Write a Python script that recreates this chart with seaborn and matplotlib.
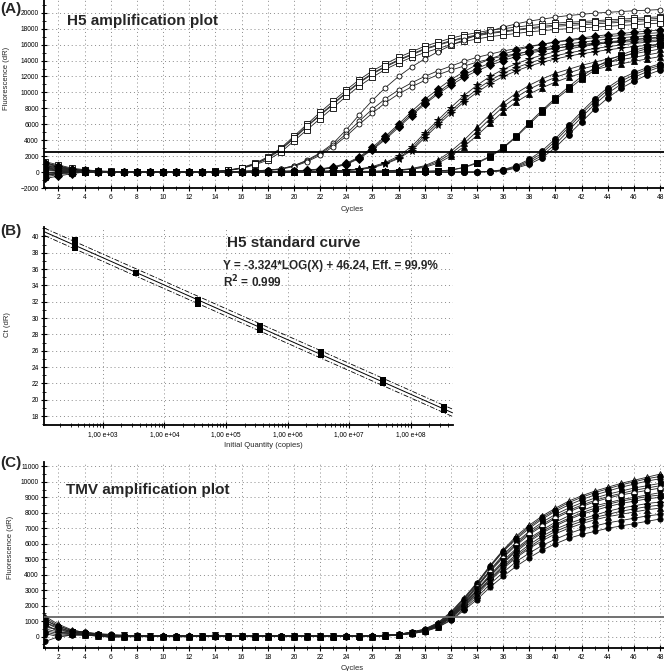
import matplotlib
matplotlib.use("Agg")
import matplotlib.pyplot as plt
import matplotlib.ticker as mticker
import numpy as np
import pandas as pd
import seaborn as sns

# ---------------- data ----------------
cycles = list(range(1, 49))

# (A) H5 amplification curves, fluorescence (dR) per cycle 1..48
h5_sq1 = [1300, 900, 500, 300, 150, 100, 50, 0, 0, 0, 0, 0, 50, 100, 250, 550, 1100, 1900, 3000, 4500, 6000, 7500, 8900, 10300, 11600, 12700, 13600, 14400, 15100, 15800, 16300, 16800, 17200, 17500, 17800, 18000, 18200, 18400, 18550, 18700, 18800, 18900, 19000, 19100, 19200, 19300, 19400, 19500]
h5_sq2 = [900, 600, 300, 200, 100, 50, 0, 0, -50, 0, 0, 0, 0, 100, 200, 500, 1000, 1700, 2800, 4200, 5700, 7100, 8500, 9900, 11200, 12300, 13200, 14000, 14700, 15400, 15900, 16400, 16800, 17100, 17400, 17600, 17800, 18000, 18150, 18300, 18400, 18500, 18600, 18700, 18800, 18900, 19000, 19100]
h5_sq3 = [-600, -300, -100, 0, 50, 50, 0, 0, 0, 0, 0, 0, 50, 50, 200, 450, 900, 1500, 2500, 3900, 5300, 6700, 8100, 9500, 10800, 11900, 12900, 13700, 14400, 15000, 15500, 16000, 16400, 16700, 17000, 17200, 17400, 17600, 17750, 17900, 18000, 18100, 18200, 18300, 18400, 18500, 18600, 18700]
h5_sq4 = [500, 200, 100, 100, 0, 0, 0, -50, 0, 0, 0, 0, 0, 100, 250, 500, 1000, 1800, 2900, 4300, 5800, 7200, 8600, 10000, 11300, 12400, 13300, 14100, 14800, 15500, 16000, 16500, 16900, 17200, 17500, 17700, 17900, 18100, 18300, 18450, 18600, 18700, 18800, 18900, 19000, 19100, 19200, 19300]

h5_op1 = [800, 500, 300, 200, 100, 50, 0, 0, 0, 0, 0, 0, 0, 0, 50, 100, 150, 250, 400, 800, 1500, 2400, 3600, 5300, 7200, 9000, 10600, 12000, 13200, 14200, 15100, 15900, 16600, 17200, 17700, 18200, 18600, 18950, 19200, 19450, 19650, 19800, 19950, 20050, 20150, 20250, 20320, 20400]
h5_op2 = [1000, 700, 400, 200, 100, 0, 0, 0, 0, 0, 0, 0, 0, 0, 50, 100, 150, 250, 400, 800, 1400, 2300, 3400, 4800, 6400, 7900, 9200, 10300, 11200, 12000, 12700, 13300, 13900, 14400, 14800, 15200, 15500, 15800, 16050, 16300, 16500, 16700, 16850, 17000, 17150, 17300, 17400, 17500]
h5_op3 = [-300, -100, 0, 100, 50, 0, 0, 0, 0, 0, 0, 0, 0, 0, 50, 100, 150, 200, 350, 700, 1300, 2100, 3200, 4500, 6000, 7400, 8700, 9800, 10700, 11500, 12200, 12800, 13300, 13800, 14200, 14550, 14850, 15100, 15350, 15550, 15750, 15900, 16050, 16200, 16300, 16400, 16500, 16600]

h5_fd1 = [1100, 800, 400, 200, 100, 50, 0, 0, 0, 0, 0, 0, 0, 0, 0, 0, 50, 100, 100, 150, 250, 400, 650, 1100, 1900, 3100, 4500, 6000, 7600, 9100, 10400, 11600, 12600, 13500, 14200, 14800, 15300, 15700, 16050, 16350, 16600, 16850, 17050, 17250, 17400, 17550, 17700, 17850]
h5_fd2 = [600, 300, 200, 100, 0, 0, 0, 0, 0, 0, 0, 0, 0, 0, 0, 0, 50, 50, 100, 150, 200, 350, 600, 1000, 1800, 2900, 4300, 5800, 7300, 8700, 10000, 11200, 12200, 13000, 13700, 14300, 14800, 15200, 15550, 15850, 16100, 16300, 16500, 16700, 16850, 17000, 17100, 17200]
h5_fd3 = [-800, -500, -200, 0, 0, 0, 0, 0, 0, 0, 0, 0, 0, 0, 0, 0, 0, 50, 50, 100, 200, 300, 550, 950, 1700, 2800, 4100, 5600, 7100, 8500, 9800, 10900, 11900, 12700, 13400, 14000, 14500, 14900, 15250, 15550, 15800, 16000, 16200, 16350, 16500, 16650, 16750, 16850]

h5_st1 = [700, 400, 200, 100, 50, 0, 0, 0, 0, 0, 0, 0, 0, 0, 0, 0, 0, 0, 50, 50, 100, 100, 150, 250, 400, 700, 1200, 2000, 3200, 4900, 6500, 8100, 9600, 10900, 12000, 12900, 13600, 14200, 14700, 15100, 15450, 15750, 16000, 16250, 16450, 16650, 16800, 16950]
h5_st2 = [400, 100, 0, 0, 0, 0, 0, 0, 0, 0, 0, 0, 0, 0, 0, 0, 0, 0, 0, 50, 50, 100, 150, 200, 350, 600, 1100, 1800, 2900, 4600, 6200, 7700, 9100, 10400, 11500, 12400, 13100, 13700, 14200, 14600, 14950, 15250, 15500, 15750, 15950, 16150, 16300, 16450]
h5_st3 = [-400, -200, 0, 0, 0, 0, 0, 0, 0, 0, 0, 0, 0, 0, 0, 0, 0, 0, 0, 0, 50, 50, 100, 200, 300, 550, 1000, 1700, 2700, 4300, 5900, 7400, 8800, 10000, 11100, 12000, 12700, 13300, 13800, 14200, 14550, 14850, 15100, 15350, 15550, 15750, 15900, 16050]

h5_tr1 = [300, 200, 100, 0, 0, 0, 0, 0, 0, 0, 0, 0, 0, 0, 0, 0, 0, 0, 0, 0, 0, 0, 50, 50, 100, 100, 150, 250, 450, 800, 1500, 2600, 4000, 5600, 7200, 8700, 9900, 10900, 11700, 12400, 12900, 13400, 13800, 14200, 14550, 14850, 15150, 15450]
h5_tr2 = [800, 500, 200, 100, 0, 0, 0, 0, 0, 0, 0, 0, 0, 0, 0, 0, 0, 0, 0, 0, 0, 0, 0, 50, 50, 100, 150, 200, 400, 700, 1300, 2300, 3600, 5100, 6700, 8200, 9400, 10400, 11200, 11900, 12450, 12950, 13350, 13750, 14100, 14400, 14700, 15000]
h5_tr3 = [-200, 0, 0, 0, 0, 0, 0, 0, 0, 0, 0, 0, 0, 0, 0, 0, 0, 0, 0, 0, 0, 0, 0, 0, 50, 50, 100, 200, 350, 600, 1100, 2000, 3200, 4600, 6100, 7600, 8800, 9800, 10600, 11300, 11900, 12400, 12850, 13250, 13600, 13900, 14200, 14500]

h5_fs1 = [200, 100, 0, 0, 0, 0, 0, 0, 0, 0, 0, 0, 0, 0, 0, 0, 0, 0, 0, 0, 0, 0, 0, 0, 0, 0, 0, 50, 50, 100, 150, 250, 600, 1200, 2000, 3100, 4500, 6200, 7800, 9300, 10700, 12000, 13100, 14000, 14700, 15300, 15700, 16100]
h5_fs2 = [-100, 0, 0, 0, 0, 0, 0, 0, 0, 0, 0, 0, 0, 0, 0, 0, 0, 0, 0, 0, 0, 0, 0, 0, 0, 0, 0, 0, 50, 100, 150, 250, 550, 1100, 1900, 3000, 4400, 6000, 7600, 9100, 10400, 11700, 12800, 13700, 14400, 15000, 15500, 15900]

h5_fc1 = [1200, 700, 300, 100, 0, 0, 0, 0, 0, 0, 0, 0, 0, 0, 0, 0, 0, 0, 0, 0, 0, 0, 0, 0, 0, 0, 0, 0, 0, 0, 0, 0, 0, 0, 100, 300, 800, 1600, 2700, 4200, 5900, 7600, 9200, 10600, 11700, 12500, 13100, 13600]
h5_fc2 = [500, 300, 100, 0, 0, 0, 0, 0, 0, 0, 0, 0, 0, 0, 0, 0, 0, 0, 0, 0, 0, 0, 0, 0, 0, 0, 0, 0, 0, 0, 0, 0, 0, 0, 100, 250, 700, 1400, 2400, 3900, 5600, 7300, 8900, 10300, 11400, 12200, 12900, 13400]
h5_fc3 = [-400, -200, 0, 0, 0, 0, 0, 0, 0, 0, 0, 0, 0, 0, 0, 0, 0, 0, 0, 0, 0, 0, 0, 0, 0, 0, 0, 0, 0, 0, 0, 0, 0, 0, 50, 200, 600, 1200, 2100, 3500, 5200, 6900, 8500, 9900, 11000, 11900, 12600, 13200]
h5_fc4 = [0, -100, 0, 0, 0, 0, 0, 0, 0, 0, 0, 0, 0, 0, 0, 0, 0, 0, 0, 0, 0, 0, 0, 0, 0, 0, 0, 0, 0, 0, 0, 0, 0, 0, 50, 150, 500, 1000, 1800, 3100, 4700, 6300, 7900, 9300, 10500, 11400, 12200, 12800]

h5_threshold = 2550

# (B) H5 standard curve
std_quantity = [3.5e2, 3.5e2, 3.5e2, 3.5e3, 3.5e4, 3.5e4, 3.5e4, 3.5e5, 3.5e5, 3.5e6, 3.5e6, 3.5e7, 3.5e7, 3.5e8, 3.5e8]
std_ct = [39.6, 39.1, 38.6, 35.5, 32.25, 31.95, 31.7, 29.0, 28.6, 25.8, 25.5, 22.4, 22.1, 19.1, 18.7]
std_ci_half = 0.45
b_tick_pos = [1e3, 1e4, 1e5, 1e6, 1e7, 1e8]
b_tick_labels = ["1,00 e+03", "1,00 e+04", "1,00 e+05", "1,00 e+06", "1,00 e+07", "1,00 e+08"]

# (C) TMV amplification curves
tmv1 = [1300, 800, 450, 250, 150, 100, 50, 50, 50, 0, 50, 50, 0, 100, 50, 50, 50, 0, 50, 50, 0, 50, 0, 50, 50, 50, 100, 150, 300, 500, 900, 1600, 2500, 3500, 4600, 5600, 6500, 7200, 7800, 8300, 8750, 9100, 9400, 9650, 9900, 10100, 10300, 10500]
tmv2 = [1100, 600, 300, 250, 200, 150, 100, 50, 50, 50, 50, 0, 50, 100, 50, 50, 0, 50, 50, 0, 50, 50, 50, 0, 50, 50, 100, 150, 300, 450, 850, 1500, 2400, 3400, 4500, 5500, 6300, 7000, 7600, 8100, 8500, 8850, 9150, 9400, 9650, 9850, 10050, 10200]
tmv3 = [900, 500, 350, 200, 150, 50, 50, 50, 0, 50, 0, 50, 50, 50, 0, 50, 50, 50, 0, 50, 50, 0, 50, 50, 0, 50, 80, 150, 280, 450, 800, 1450, 2300, 3300, 4300, 5300, 6100, 6800, 7400, 7900, 8300, 8650, 8950, 9200, 9400, 9600, 9750, 9900]
tmv4 = [700, 400, 300, 200, 100, 0, 0, 0, 50, 50, 50, 50, 50, 50, 50, 0, 50, 50, 50, 50, 0, 50, 0, 50, 50, 50, 80, 130, 260, 420, 780, 1400, 2200, 3200, 4200, 5100, 5900, 6600, 7150, 7650, 8050, 8400, 8700, 8950, 9150, 9300, 9450, 9600]
tmv5 = [600, 500, 250, 150, 100, 50, 100, 50, 50, 0, 0, 0, 50, 100, 50, 50, 50, 50, 0, 50, 50, 50, 50, 0, 50, 0, 80, 130, 250, 400, 750, 1350, 2150, 3050, 4000, 4900, 5700, 6350, 6900, 7400, 7800, 8150, 8450, 8650, 8850, 9000, 9150, 9300]
tmv6 = [1000, 700, 400, 300, 200, 100, 50, 100, 50, 50, 50, 50, 0, 50, 50, 0, 50, 50, 50, 50, 0, 50, 50, 50, 0, 50, 60, 120, 250, 400, 700, 1300, 2050, 2950, 3900, 4750, 5500, 6150, 6700, 7150, 7550, 7900, 8150, 8400, 8600, 8750, 8900, 9000]
tmv7 = [800, 300, 200, 150, 100, 50, 0, 50, 0, 50, 50, 50, 50, 50, 0, 50, 50, 0, 50, 50, 50, 50, 0, 50, 50, 50, 60, 120, 230, 380, 680, 1250, 2000, 2850, 3750, 4600, 5300, 5950, 6500, 6950, 7300, 7600, 7850, 8100, 8300, 8450, 8600, 8700]
tmv8 = [400, 200, 200, 100, 50, -50, 0, 0, 0, 50, 0, 0, 50, 50, 50, 50, 0, 50, 50, 0, 50, 50, 50, 50, 50, 0, 50, 100, 220, 360, 650, 1200, 1900, 2700, 3600, 4400, 5100, 5700, 6200, 6650, 7000, 7300, 7550, 7750, 7900, 8050, 8200, 8300]
tmv9 = [-300, 0, 100, 100, 50, 0, 0, 50, 50, 0, 50, 50, 50, 0, 50, 50, 50, 0, 50, 50, 0, 50, 50, 50, 50, 50, 50, 100, 200, 340, 620, 1100, 1800, 2550, 3400, 4150, 4850, 5400, 5900, 6300, 6650, 6950, 7150, 7350, 7500, 7650, 7800, 7900]
tmv10 = [200, 0, 100, 150, 100, 50, 50, 0, 50, 50, 0, 50, 50, 50, 50, 50, 50, 50, 0, 50, 50, 50, 0, 50, 50, 50, 50, 100, 200, 330, 600, 1050, 1700, 2400, 3200, 3900, 4550, 5100, 5600, 6000, 6350, 6600, 6800, 7000, 7150, 7300, 7450, 7600]
tmv11 = [1200, 700, 400, 300, 150, 100, 50, 50, 50, 50, 0, 50, 50, 50, 50, 0, 50, 50, 50, 0, 50, 50, 50, 50, 0, 50, 90, 150, 290, 480, 870, 1550, 2450, 3450, 4550, 5550, 6400, 7100, 7700, 8200, 8650, 9000, 9300, 9550, 9800, 10000, 10200, 10350]
tmv12 = [500, 300, 250, 200, 100, 50, 50, 0, 50, 50, 50, 50, 0, 50, 50, 50, 50, 0, 50, 50, 50, 0, 50, 50, 50, 50, 80, 140, 270, 440, 790, 1420, 2250, 3250, 4250, 5200, 6000, 6700, 7250, 7750, 8150, 8500, 8800, 9050, 9250, 9450, 9600, 9750]
tmv13 = [900, 600, 350, 250, 150, 100, 50, 50, 0, 50, 50, 50, 50, 50, 50, 50, 0, 50, 50, 50, 50, 50, 0, 50, 50, 50, 70, 130, 250, 400, 720, 1320, 2100, 3000, 3950, 4800, 5600, 6250, 6800, 7250, 7650, 8000, 8300, 8550, 8750, 8900, 9050, 9150]
tmv14 = [300, 100, 150, 100, 50, 0, 50, 50, 50, 0, 50, 50, 50, 50, 0, 50, 50, 50, 50, 50, 0, 50, 50, 50, 50, 50, 60, 110, 230, 370, 660, 1220, 1950, 2800, 3700, 4500, 5200, 5800, 6350, 6800, 7150, 7450, 7700, 7900, 8100, 8250, 8400, 8500]

tmv_threshold = 1250

# ---------------- groups and marker styles ----------------
h5_groups = {
    "sq": [h5_sq1, h5_sq2, h5_sq3, h5_sq4],
    "op": [h5_op1, h5_op2, h5_op3],
    "fd": [h5_fd1, h5_fd2, h5_fd3],
    "st": [h5_st1, h5_st2, h5_st3],
    "tr": [h5_tr1, h5_tr2, h5_tr3],
    "fs": [h5_fs1, h5_fs2],
    "fc": [h5_fc1, h5_fc2, h5_fc3, h5_fc4],
}
h5_styles = {
    "sq": dict(marker="s", ms=4.4, mfc="white"),
    "op": dict(marker="o", ms=3.6, mfc="white"),
    "fd": dict(marker="D", ms=3.6, mfc="black"),
    "st": dict(marker="*", ms=5.6, mfc="black"),
    "tr": dict(marker="^", ms=4.2, mfc="black"),
    "fs": dict(marker="s", ms=4.2, mfc="black"),
    "fc": dict(marker="o", ms=4.2, mfc="black"),
}

tmv_groups = {
    "a": [tmv1], "k": [tmv11], "b": [tmv2], "l": [tmv12], "c": [tmv3],
    "d": [tmv4], "e": [tmv5], "m": [tmv13], "f": [tmv6], "g": [tmv7],
    "n": [tmv14], "h": [tmv8], "i": [tmv9], "j": [tmv10],
}
tmv_styles = {
    "a": dict(marker="^", ms=4.0, mfc="white"),
    "k": dict(marker="o", ms=3.8, mfc="black"),
    "b": dict(marker="o", ms=3.8, mfc="black"),
    "l": dict(marker="^", ms=4.0, mfc="white"),
    "c": dict(marker="s", ms=3.6, mfc="black"),
    "d": dict(marker="o", ms=3.8, mfc="white"),
    "e": dict(marker="v", ms=3.8, mfc="black"),
    "m": dict(marker="s", ms=3.6, mfc="black"),
    "f": dict(marker="o", ms=3.8, mfc="black"),
    "g": dict(marker="D", ms=3.2, mfc="black"),
    "n": dict(marker="o", ms=3.8, mfc="black"),
    "h": dict(marker="^", ms=3.8, mfc="black"),
    "i": dict(marker="o", ms=3.8, mfc="black"),
    "j": dict(marker="o", ms=3.8, mfc="black"),
}

# ---------------- drawing ----------------
sns.set_theme(style="white")
plt.rcParams["font.family"] = ["Liberation Sans", "DejaVu Sans"]

GRID = dict(color="#8a8a8a", lw=0.7, ls=(0, (1, 3)))


def style_axes(ax):
    for side in ("top", "right"):
        ax.spines[side].set_visible(False)
    for side in ("left", "bottom"):
        ax.spines[side].set_color("black")
        ax.spines[side].set_linewidth(1.3)
    ax.tick_params(which="major", direction="inout", length=4, width=0.8,
                   labelsize=4.8, colors="black", pad=2,
                   left=True, bottom=True)
    ax.tick_params(which="minor", direction="inout", length=3, width=0.7,
                   left=True, bottom=True)
    ax.grid(True, which="major", **GRID)
    ax.set_axisbelow(True)


def amp_panel(ax, groups, styles, threshold, thr_color):
    for name, reps in groups.items():
        rows = []
        for i, rfu in enumerate(reps):
            for c, v in zip(cycles, rfu):
                rows.append((name + str(i), c, v))
        df = pd.DataFrame(rows, columns=["well", "cycle", "rfu"])
        sns.lineplot(data=df, x="cycle", y="rfu", units="well", estimator=None,
                     ax=ax, color="#222222", lw=0.6, mec="black", mew=0.6,
                     legend=False, **styles[name])
    ax.axhline(threshold, color=thr_color, lw=1.3, zorder=5)
    ax.set_xlim(0.93, 48.3)
    ax.xaxis.set_major_locator(mticker.MultipleLocator(2))
    ax.xaxis.set_minor_locator(mticker.MultipleLocator(1))
    ax.set_xlabel("Cycles", fontsize=5.5)
    ax.set_ylabel("Fluorescence (dR)", fontsize=5.5)
    style_axes(ax)


fig = plt.figure(figsize=(6.64, 6.71), dpi=100)
ax_a = fig.add_axes([0.067, 0.7198, 0.933, 0.2802])
ax_b = fig.add_axes([0.067, 0.3666, 0.6145, 0.2956])
ax_c = fig.add_axes([0.067, 0.0338, 0.933, 0.2781])

# (A)
amp_panel(ax_a, h5_groups, h5_styles, h5_threshold, "black")
ax_a.set_ylim(-2000, 21600)
ax_a.yaxis.set_major_locator(mticker.MultipleLocator(2000))
ax_a.yaxis.set_minor_locator(mticker.MultipleLocator(1000))
ax_a.yaxis.set_label_coords(-0.055, 0.585)
ax_a.xaxis.set_label_coords(0.497, -0.096)

# (B)
std_df = pd.DataFrame({"qty": std_quantity, "ct": std_ct})
slope, intercept = np.polyfit(np.log10(std_df["qty"]), std_df["ct"], 1)
ax_b.set_xscale("log")
ax_b.set_xlim(10 ** 2.05, 10 ** 8.68)
ax_b.set_ylim(16.9, 41.2)
fit_x = np.logspace(2.05, 8.68, 60)
fit_y = slope * np.log10(fit_x) + intercept
sns.lineplot(x=fit_x, y=fit_y, ax=ax_b, color="black", lw=0.7)
sns.lineplot(x=fit_x, y=fit_y + std_ci_half, ax=ax_b, color="black", lw=0.6,
             ls=(0, (6, 2, 1.5, 2)))
sns.lineplot(x=fit_x, y=fit_y - std_ci_half, ax=ax_b, color="black", lw=0.6,
             ls=(0, (6, 2, 1.5, 2)))
sns.scatterplot(data=std_df, x="qty", y="ct", ax=ax_b, marker="s", s=24,
                color="black", edgecolor="black", linewidth=0, zorder=6)
ax_b.xaxis.set_major_locator(mticker.FixedLocator(b_tick_pos))
ax_b.xaxis.set_major_formatter(mticker.FixedFormatter(b_tick_labels))
ax_b.xaxis.set_minor_locator(mticker.LogLocator(base=10, subs=np.arange(2, 10)))
ax_b.xaxis.set_minor_formatter(mticker.NullFormatter())
ax_b.yaxis.set_major_locator(mticker.MultipleLocator(2))
ax_b.yaxis.set_minor_locator(mticker.MultipleLocator(1))
ax_b.set_xlabel("Initial Quantity (copies)", fontsize=5.5)
ax_b.set_ylabel("Ct (dR)", fontsize=5.5)
style_axes(ax_b)
ax_b.yaxis.set_label_coords(-0.083, 0.505)
ax_b.xaxis.set_label_coords(0.537, -0.086)

# (C)
amp_panel(ax_c, tmv_groups, tmv_styles, tmv_threshold, "#666666")
ax_c.set_ylim(-750, 11300)
ax_c.yaxis.set_major_locator(mticker.MultipleLocator(1000))
ax_c.yaxis.set_minor_locator(mticker.MultipleLocator(500))
ax_c.yaxis.set_label_coords(-0.05, 0.543)
ax_c.xaxis.set_label_coords(0.497, -0.088)

# ---------------- annotations ----------------
W, H = 664, 671


def ftext(px, py, s, size, **kw):
    fig.text(px / W, 1 - py / H, s, fontsize=size, fontweight="bold",
             va="center", ha="left", **kw)


ftext(0, 9, "(A)", 11)
ftext(67, 21, "H5 amplification plot", 11)
ftext(0, 231, "(B)", 11)
ftext(227, 243, "H5 standard curve", 11)
ftext(223, 266, "Y = -3.324*LOG(X) + 46.24, Eff. = 99.9%", 8.5)
ftext(223, 282, "R$^\\mathbf{2}$ = 0.999", 8.5)
ftext(0, 463, "(C)", 11)
ftext(66, 490, "TMV amplification plot", 11)

fig.savefig("out.png", dpi=100)
